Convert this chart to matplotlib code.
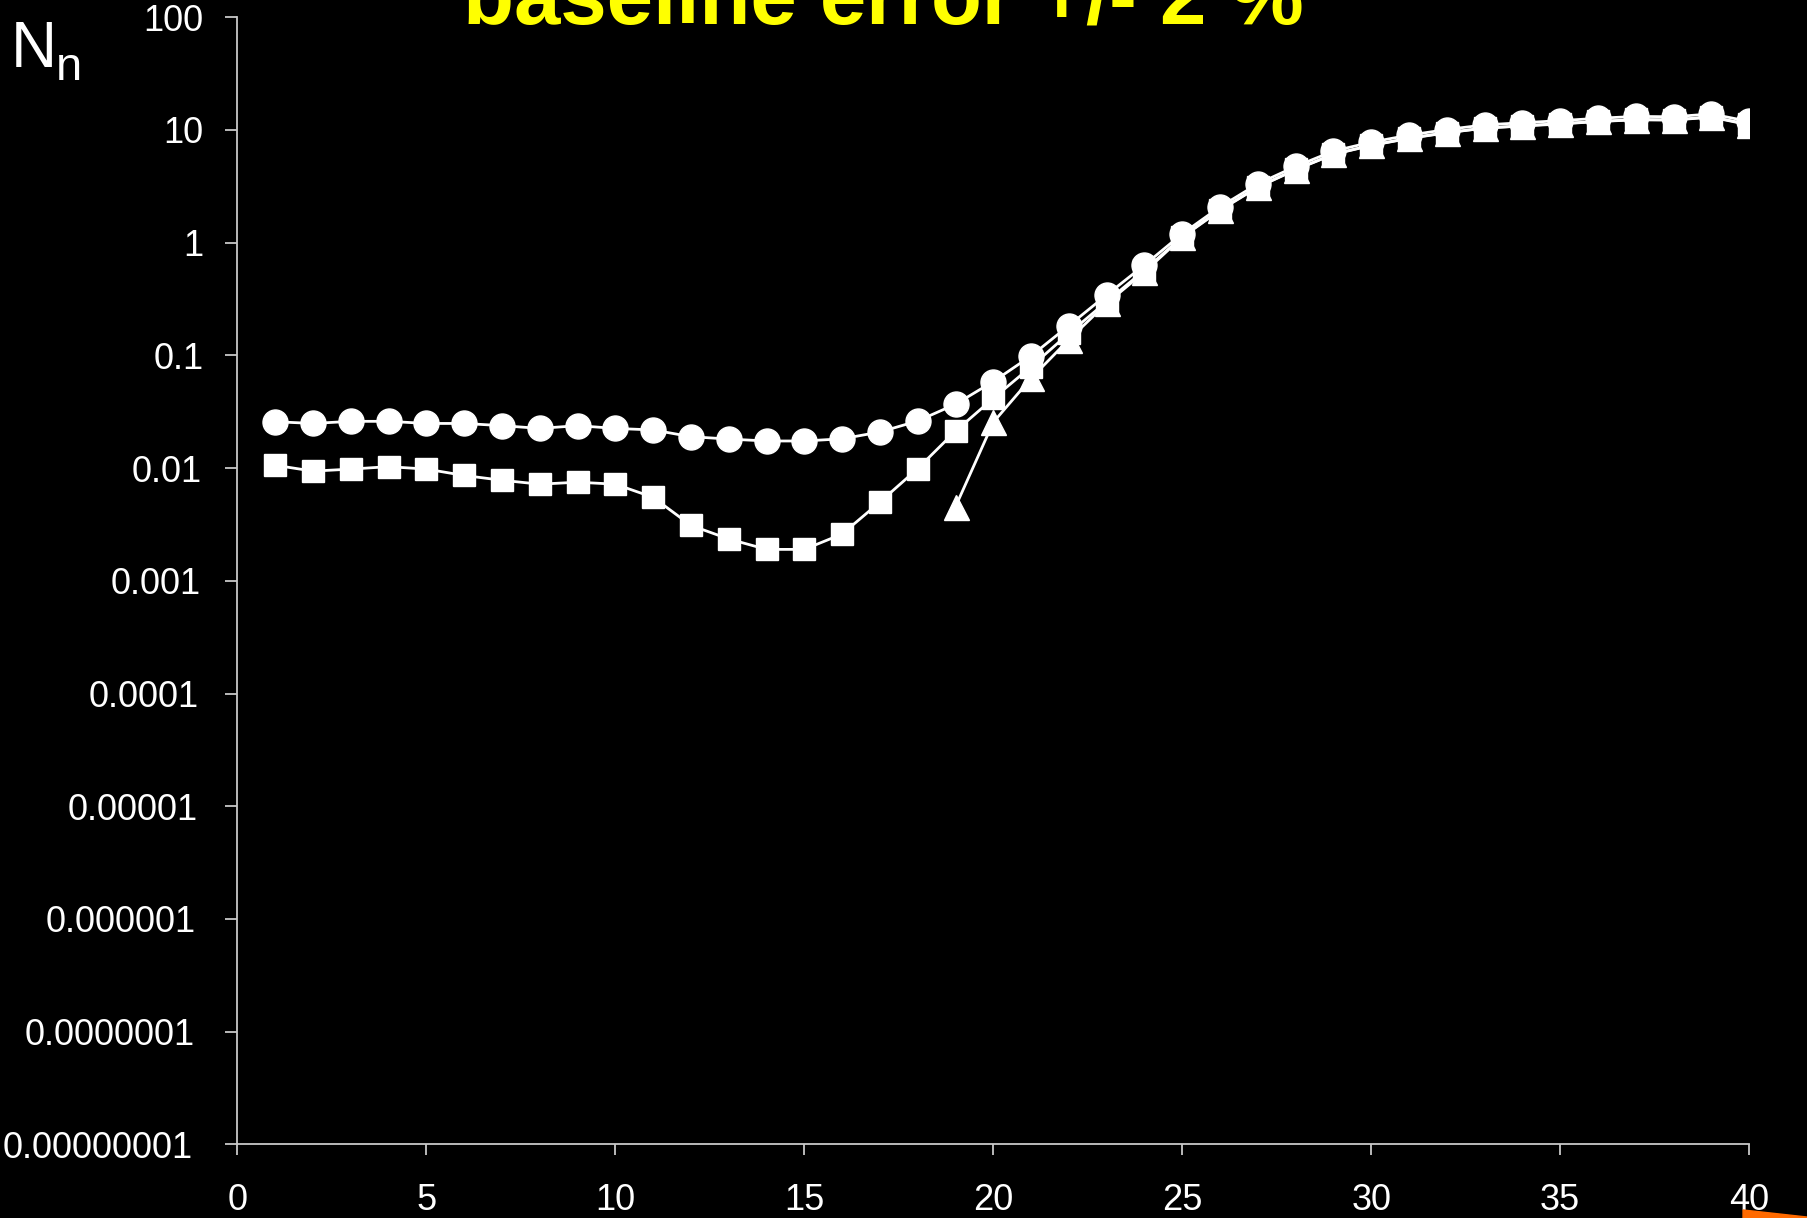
import numpy as np
import matplotlib
matplotlib.use("Agg")
import matplotlib.pyplot as plt
from matplotlib.patches import Polygon
from matplotlib.transforms import ScaledTranslation

plt.rcParams['font.family'] = ['Liberation Sans', 'DejaVu Sans']

# channel number
x_all = list(range(1, 41))
x_tri = list(range(19, 41))

# N_n values (three series)
circles = [0.0258, 0.0249, 0.0260, 0.0260, 0.0249, 0.0249, 0.0238, 0.0225, 0.0238, 0.0225,
           0.0218, 0.0190, 0.0181, 0.0174, 0.0174, 0.0182, 0.0209, 0.0262, 0.0369, 0.0586,
           0.099, 0.184, 0.344, 0.634, 1.20, 2.08, 3.33, 4.75, 6.5, 7.8,
           9.0, 10.1, 11.1, 11.6, 12.1, 12.7, 13.2, 13.1, 13.9, 11.9]
squares = [0.0106, 0.0094, 0.0098, 0.0103, 0.0098, 0.0086, 0.0078, 0.0072, 0.0075, 0.0072,
           0.0055, 0.0031, 0.00235, 0.0019, 0.0019, 0.0026, 0.0050, 0.0099, 0.0213, 0.0416,
           0.0794, 0.157, 0.30, 0.57, 1.13, 1.96, 3.13, 4.47, 6.1, 7.33,
           8.46, 9.49, 10.4, 10.9, 11.4, 11.9, 12.4, 12.3, 13.1, 11.2]
triangles = [0.00455, 0.0255, 0.0627, 0.138, 0.29, 0.55, 1.12, 1.94, 3.11, 4.44,
             6.08, 7.29, 8.42, 9.44, 10.4, 10.85, 11.3, 11.9, 12.3, 12.25,
             13.0, 11.1]

yticks = [1e-8, 1e-7, 1e-6, 1e-5, 1e-4, 1e-3, 1e-2, 1e-1, 1, 10, 100]
ylabels = ["0.00000001", "0.0000001", "0.000001", "0.00001", "0.0001", "0.001",
           "0.01", "0.1", "1", "10", "100"]
xticks = [0, 5, 10, 15, 20, 25, 30, 35, 40]

fig = plt.figure(figsize=(18.07, 12.18), dpi=100, facecolor='black')
ax = fig.add_axes([0.1314, 0.0605, 0.8366, 0.9253])
ax.set_facecolor('black')

ax.plot(x_tri, triangles, color='white', lw=2, marker='^', ms=18, mec='white', mfc='white')
ax.plot(x_all, squares, color='white', lw=2, marker='s', ms=16, mec='white', mfc='white')
ax.plot(x_all, circles, color='white', lw=2, marker='o', ms=18, mec='white', mfc='white')

ax.set_yscale('log')
ax.set_ylim(1e-8, 100)
ax.set_xlim(0, 40)
ax.set_yticks(yticks)
ax.set_yticklabels(ylabels)
ax.set_xticks(xticks)
ax.minorticks_off()

for side in ['top', 'right']:
    ax.spines[side].set_visible(False)
for side in ['left', 'bottom']:
    ax.spines[side].set_color('#c8c8c8')
    ax.spines[side].set_linewidth(1.3)

ax.tick_params(axis='y', colors='#c8c8c8', labelcolor='white', labelsize=26,
               length=8.5, width=1.3, direction='out', pad=16)
ax.tick_params(axis='x', colors='#c8c8c8', labelcolor='white', labelsize=26,
               length=8, width=1.3, direction='out', pad=20)

# longer labels sit a little further left, as on the slide
for lab, txt in zip(ax.get_yticklabels(), ylabels):
    shift = -max(len(txt) - 3, 0) * 1.5 / 100.0
    lab.set_transform(lab.get_transform() + ScaledTranslation(shift, 0, fig.dpi_scale_trans))

# title, cut off at the top edge like the slide
fig.text(0.489, 0.9803, "baseline error +/- 2 %", color='#ffff00', fontsize=60,
         fontweight='bold', ha='center', va='baseline')

# y label N_n
fig.text(0.006, 0.945, "N", color='white', fontsize=46, ha='left', va='baseline')
fig.text(0.031, 0.934, "n", color='white', fontsize=34, ha='left', va='baseline')

# orange sliver at bottom right corner
fig.patches.append(Polygon([(0.9646, 0.0066), (1.0, 0.0008), (1.0, 0.0), (0.9646, 0.0)],
                           closed=True, transform=fig.transFigure, color='#ff6a00'))

fig.savefig("out.png", dpi=100, facecolor='black')
